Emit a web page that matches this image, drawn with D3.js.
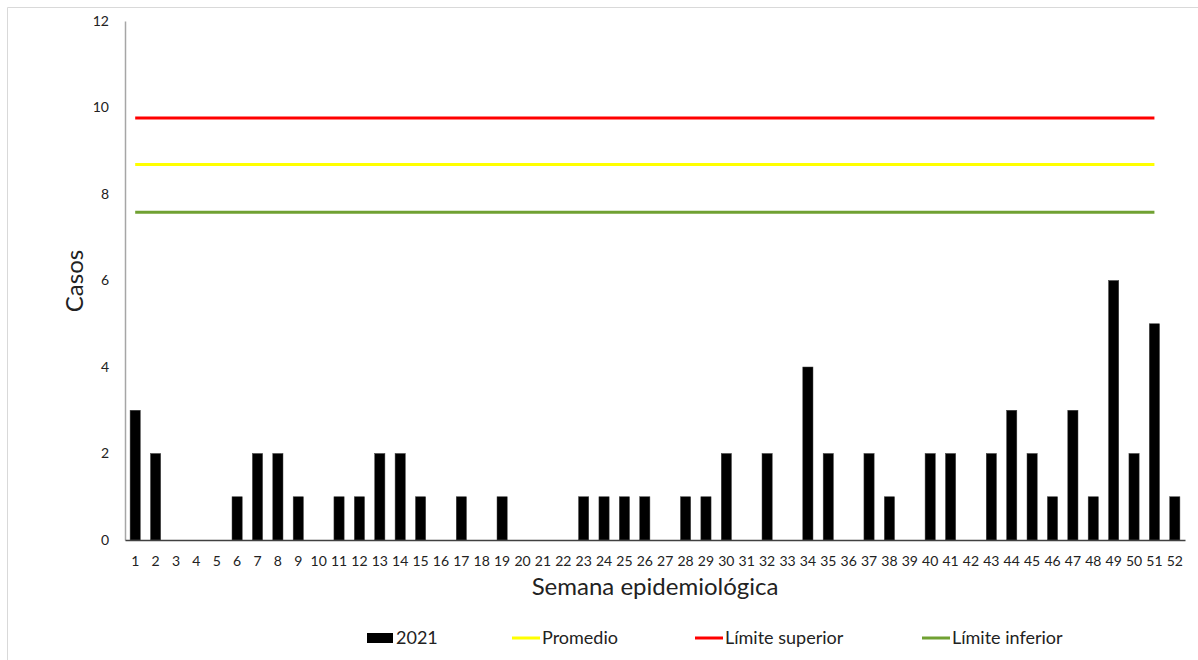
<!DOCTYPE html>
<html>
<head>
<meta charset="utf-8">
<script src="https://cdn.jsdelivr.net/npm/d3@7"></script>
<style>
  html, body { margin: 0; padding: 0; background: #fff; }
  svg { display: block; font-family: Lato, "Open Sans", sans-serif; }
</style>
</head>
<body>
<svg id="chart" width="1198" height="660"></svg>
<script>
const weeks = d3.range(1, 53).map(String);
const cases2021 = [3,2,0,0,0,1,2,2,1,0,1,1,2,2,1,0,1,0,1,0,0,0,1,1,1,1,0,1,1,2,0,2,0,4,2,0,2,1,0,2,2,0,2,3,2,1,3,1,6,2,5,1];
const promedio = [8.68,8.68,8.68,8.68,8.68,8.68,8.68,8.68,8.68,8.68,8.68,8.68,8.68,8.68,8.68,8.68,8.68,8.68,8.68,8.68,8.68,8.68,8.68,8.68,8.68,8.68,8.68,8.68,8.68,8.68,8.68,8.68,8.68,8.68,8.68,8.68,8.68,8.68,8.68,8.68,8.68,8.68,8.68,8.68,8.68,8.68,8.68,8.68,8.68,8.68,8.68];
const limiteSuperior = [9.76,9.76,9.76,9.76,9.76,9.76,9.76,9.76,9.76,9.76,9.76,9.76,9.76,9.76,9.76,9.76,9.76,9.76,9.76,9.76,9.76,9.76,9.76,9.76,9.76,9.76,9.76,9.76,9.76,9.76,9.76,9.76,9.76,9.76,9.76,9.76,9.76,9.76,9.76,9.76,9.76,9.76,9.76,9.76,9.76,9.76,9.76,9.76,9.76,9.76,9.76];
const limiteInferior = [7.58,7.58,7.58,7.58,7.58,7.58,7.58,7.58,7.58,7.58,7.58,7.58,7.58,7.58,7.58,7.58,7.58,7.58,7.58,7.58,7.58,7.58,7.58,7.58,7.58,7.58,7.58,7.58,7.58,7.58,7.58,7.58,7.58,7.58,7.58,7.58,7.58,7.58,7.58,7.58,7.58,7.58,7.58,7.58,7.58,7.58,7.58,7.58,7.58,7.58,7.58];
const yTicks = [0, 2, 4, 6, 8, 10, 12];
const legendLabels = ["2021", "Promedio", "Límite superior", "Límite inferior"];
const lineColors = { promedio: "#ffff00", sup: "#ff0000", inf: "#70a132" };

(function () {
const svg = d3.select("#chart");

// outer frame (top & left edges visible)
svg.append("line").attr("x1", 7.5).attr("x2", 1198).attr("y1", 7.5).attr("y2", 7.5).attr("stroke", "#d9d9d9");
svg.append("line").attr("x1", 7.5).attr("x2", 7.5).attr("y1", 7.5).attr("y2", 660).attr("stroke", "#d9d9d9");

const mLeft = 125, mRight = 1185, mTop = 21, mBottom = 540;
const xc = d3.scaleBand().domain(weeks).range([mLeft, mRight]);
const y = d3.scaleLinear().domain([0, 12]).range([mBottom, mTop]);

// bars
svg.append("g").selectAll("rect").data(cases2021).join("rect")
  .attr("x", (d, i) => xc(weeks[i]) + xc.bandwidth() * 0.25)
  .attr("width", xc.bandwidth() * 0.5)
  .attr("y", d => y(d))
  .attr("height", d => y(0) - y(d))
  .attr("fill", "#000")
  .attr("stroke", "#404040")
  .attr("stroke-width", 0.5);

// lines
const line = d3.line().x((d, i) => xc(weeks[i]) + xc.bandwidth() / 2).y(d => y(d));
[[limiteSuperior, lineColors.sup], [promedio, lineColors.promedio], [limiteInferior, lineColors.inf]].forEach(([data, c]) => {
  svg.append("path").datum(data).attr("d", line).attr("fill", "none").attr("stroke", c).attr("stroke-width", 3);
});

// y axis
const yAxis = svg.append("g").attr("transform", `translate(${mLeft},0)`)
  .call(d3.axisLeft(y).tickValues(yTicks).tickSize(0).tickPadding(16));
yAxis.select(".domain").attr("stroke", "#a6a6a6").attr("stroke-width", 1.5);
yAxis.selectAll("text").attr("font-size", 14).attr("fill", "#222").style("font-family", "Lato, sans-serif");

// x axis
const xAxis = svg.append("g").attr("transform", `translate(0,${mBottom})`)
  .call(d3.axisBottom(xc).tickSize(0).tickPadding(16));
xAxis.select(".domain").attr("stroke", "#404040").attr("stroke-width", 1.5);
xAxis.selectAll("text").attr("font-size", 14).attr("fill", "#222").style("font-family", "Lato, sans-serif");

// axis titles
svg.append("text").attr("x", 655).attr("y", 595).attr("text-anchor", "middle")
  .attr("font-size", 24).attr("fill", "#222").text("Semana epidemiológica");
svg.append("text").attr("transform", "translate(83,281) rotate(-90)").attr("text-anchor", "middle")
  .attr("font-size", 24).attr("fill", "#222").text("Casos");

// legend
const ly = 638;
const leg = svg.append("g").attr("font-size", 18).attr("fill", "#222");
leg.append("rect").attr("x", 367).attr("y", ly - 5).attr("width", 26).attr("height", 10).attr("fill", "#000");
leg.append("text").attr("x", 396).attr("y", ly + 6).text(legendLabels[0]);
const items = [[512, lineColors.promedio, legendLabels[1]], [695, lineColors.sup, legendLabels[2]], [922, lineColors.inf, legendLabels[3]]];
items.forEach(([lx, c, t]) => {
  leg.append("line").attr("x1", lx).attr("x2", lx + 28).attr("y1", ly).attr("y2", ly).attr("stroke", c).attr("stroke-width", 3);
  leg.append("text").attr("x", lx + 30).attr("y", ly + 6).text(t);
});
})();
</script>
</body>
</html>
